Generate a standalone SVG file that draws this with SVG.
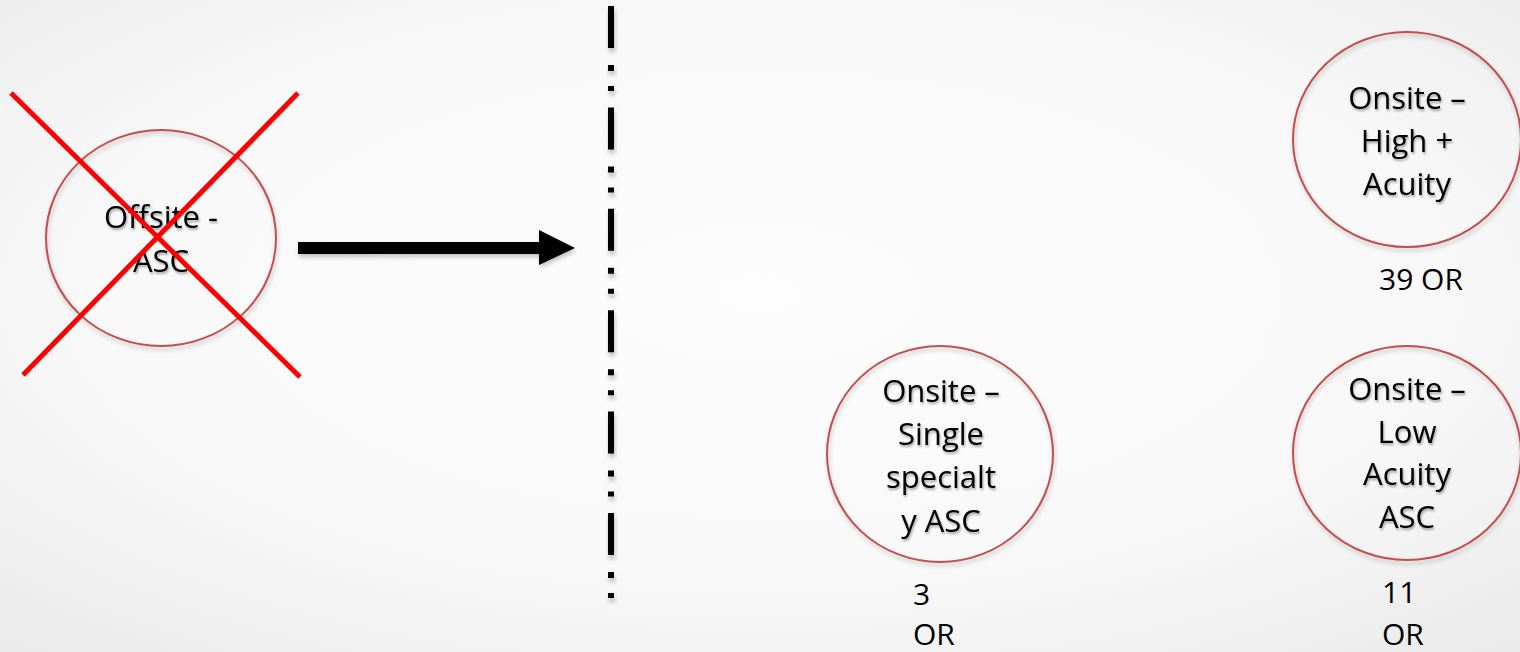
<svg xmlns="http://www.w3.org/2000/svg" width="1520" height="652" viewBox="0 0 1520 652">
  <defs>
    <radialGradient id="bg" cx="0.5" cy="0.45" r="0.75">
      <stop offset="0" stop-color="#fdfdfd"/>
      <stop offset="0.6" stop-color="#f8f8f8"/>
      <stop offset="1" stop-color="#eaeaea"/>
    </radialGradient>
    <filter id="soft" x="-20%" y="-20%" width="140%" height="150%">
      <feDropShadow dx="1" dy="3" stdDeviation="2" flood-color="#000" flood-opacity="0.22"/>
    </filter>
    <filter id="lineShadow" filterUnits="userSpaceOnUse" x="590" y="0" width="45" height="630">
      <feDropShadow dx="1" dy="4" stdDeviation="2" flood-color="#000" flood-opacity="0.25"/>
    </filter>
    <filter id="txt" x="-10%" y="-30%" width="120%" height="170%">
      <feDropShadow dx="1" dy="2" stdDeviation="1.2" flood-color="#000" flood-opacity="0.35"/>
    </filter>
  </defs>
  <style>
    .ring { fill: none; stroke: #c0504d; stroke-width: 2; }
    .lbl { font-family: "Open Sans", "Liberation Sans", sans-serif; font-size: 31px; fill: #000; text-anchor: middle; }
    .cnt { font-family: "Open Sans", "Liberation Sans", sans-serif; font-size: 30px; fill: #000; }
    .cross { stroke: #ff0000; stroke-width: 5; }
  </style>

  <rect x="0" y="0" width="1520" height="652" fill="url(#bg)"/>

  <!-- dash-dot divider -->
  <line x1="611" y1="6" x2="611" y2="600" stroke="#000" stroke-width="6"
        stroke-dasharray="42 17 6 15 5 16.4" filter="url(#lineShadow)"/>

  <!-- connectors -->
  <g id="connectors" filter="url(#soft)">
    <path d="M298 242 H539 V230 L575 248 L539 265 V254 H298 Z" fill="#000"/>
  </g>

  <!-- removed offsite option -->
  <g id="node-offsite">
    <ellipse class="ring" cx="161" cy="238" rx="115" ry="108" filter="url(#soft)"/>
    <g filter="url(#txt)">
      <text class="lbl" x="161" y="228">Offsite -</text>
      <text class="lbl" x="161" y="272">ASC</text>
    </g>
    <line class="cross" x1="11" y1="93" x2="300" y2="377"/>
    <line class="cross" x1="298" y1="93" x2="23" y2="375"/>
  </g>

  <g id="node-high">
    <ellipse class="ring" cx="1407" cy="139.5" rx="114" ry="107.5" filter="url(#soft)"/>
    <g filter="url(#txt)">
      <text class="lbl" x="1407" y="109">Onsite –</text>
      <text class="lbl" x="1407" y="152">High +</text>
      <text class="lbl" x="1407" y="195">Acuity</text>
    </g>
    <text class="cnt" x="1379" y="290">39 OR</text>
  </g>

  <g id="node-single">
    <ellipse class="ring" cx="940" cy="454" rx="113" ry="108" filter="url(#soft)"/>
    <g filter="url(#txt)">
      <text class="lbl" x="941" y="402">Onsite –</text>
      <text class="lbl" x="941" y="445">Single</text>
      <text class="lbl" x="941" y="488">specialt</text>
      <text class="lbl" x="941" y="532">y ASC</text>
    </g>
    <text class="cnt" x="913" y="605">3</text>
    <text class="cnt" x="913" y="645">OR</text>
  </g>

  <g id="node-low">
    <ellipse class="ring" cx="1407" cy="453" rx="114" ry="107" filter="url(#soft)"/>
    <g filter="url(#txt)">
      <text class="lbl" x="1407" y="400">Onsite –</text>
      <text class="lbl" x="1407" y="443">Low</text>
      <text class="lbl" x="1407" y="485">Acuity</text>
      <text class="lbl" x="1407" y="528">ASC</text>
    </g>
    <text class="cnt" x="1382" y="603">11</text>
    <text class="cnt" x="1382" y="645">OR</text>
  </g>
</svg>
